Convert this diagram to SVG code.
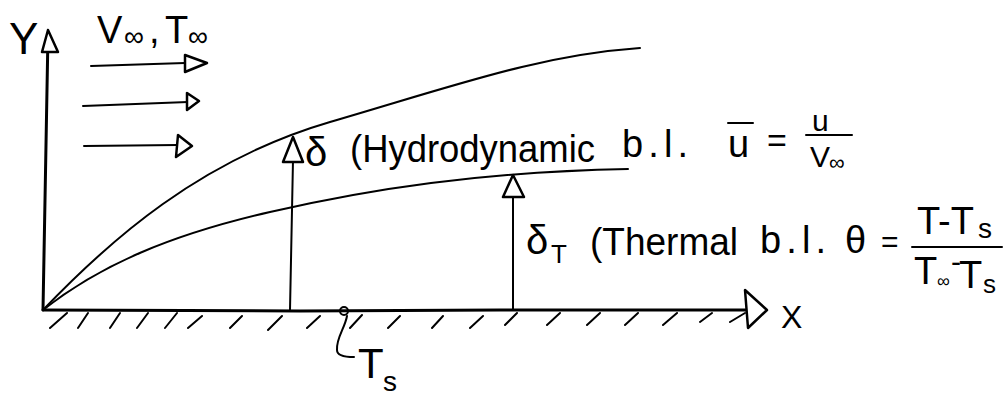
<svg xmlns="http://www.w3.org/2000/svg" width="1003" height="395" viewBox="0 0 1003 395">
<style>
.ln{stroke:#000;fill:none;stroke-width:2;stroke-linecap:round;stroke-linejoin:round}
.ax{stroke-width:3}
.hd{fill:#fff;stroke:#000;stroke-width:2.5;stroke-linejoin:round}
.t{font-family:"Liberation Sans",Arial,sans-serif;fill:#000}
</style>
<rect width="1003" height="395" fill="#fff"/>
<g id="axes">
  <path class="ln ax" d="M43,310 L45,200 L48,34"/>
  <polygon class="hd" points="48,30 42,52 58,52"/>
  <path class="ln ax" d="M43,310 L300,311 L500,310 L764,310"/>
  <polygon class="hd" points="767,310 745,290 748,328"/>
  <g id="hatching" class="ln">
    <path d="M50,328 L67,313 M78,328 L88,313 M110,328 L120,313 M137,328 L148,313 M165,328 L177,313 M188,328 L202,316 M230,328 L242,316 M268,330 L282,316 M307,328 L320,316 M350,328 L362,315 M388,328 L400,316 M432,328 L443,316 M470,328 L483,316 M505,325 L517,313 M547,325 L560,313 M587,325 L600,313 M625,325 L638,313 M663,325 L677,313 M700,322 L712,313 M730,322 L745,313"/>
  </g>
</g>
<g id="flow">
  <path class="ln" d="M91,66 L185,63"/>
  <polygon class="hd" points="207,63 185,55 185,72"/>
  <path class="ln" d="M83,106 L188,102"/>
  <polygon class="hd" points="199,101 187,93 187,110"/>
  <path class="ln" d="M84,146 L178,145"/>
  <polygon class="hd" points="192,146 178,135 176,157"/>
</g>
<g id="curves">
  <path id="delta-curve" class="ln" d="M43,310 C110,240 200,160 330,122 C460,84 540,55 640,48"/>
  <path id="deltaT-curve" class="ln" d="M43,310 C100,265 170,235 270,212 C370,189 480,172 628,169"/>
</g>
<g id="connectors">
  <path class="ln" d="M290,310 L293,160"/>
  <polygon class="hd" points="293,137 283,162 303,162"/>
  <path class="ln" d="M513,310 L513,195"/>
  <polygon class="hd" points="513,175 503,197 524,197"/>
  <circle class="ln" cx="344" cy="311" r="4" fill="#fff"/>
  <path class="ln" d="M347,316 C345,328 336,338 337,350 C337,356 345,357 354,357"/>
</g>
<g id="labels">
  <text class="t" font-size="44" x="9" y="54">Y</text>
  <text class="t" font-size="32" x="781" y="328">X</text>
  <text class="t" font-size="38" y="43"><tspan x="97">V</tspan><tspan x="124" y="46" font-size="28">∞</tspan><tspan x="149" y="43">,</tspan><tspan x="165" y="43">T</tspan><tspan x="188" y="46" font-size="28">∞</tspan></text>
  <g id="hydro-label">
    <text class="t" font-size="40" x="305" y="166">δ</text>
    <text class="t" font-size="38" x="350" y="162" textLength="245" lengthAdjust="spacingAndGlyphs">(Hydrodynamic</text>
    <text class="t" font-size="38" x="622" y="157" textLength="66" lengthAdjust="spacing">b.l.</text>
    <text class="t" font-size="38" x="728" y="157">u</text>
    <path class="ln" d="M728,123 L753,123"/>
    <text class="t" font-size="34" x="767" y="152">=</text>
    <text class="t" font-size="30" x="812" y="131">u</text>
    <path class="ln" d="M806,135 L852,135"/>
    <text class="t" font-size="30" y="167"><tspan x="810">V</tspan><tspan x="829" y="170" font-size="22">∞</tspan></text>
  </g>
  <g id="thermal-label">
    <text class="t" font-size="40" x="526" y="254">δ<tspan x="551" y="263" font-size="26">T</tspan></text>
    <text class="t" font-size="38" x="590" y="255" textLength="148" lengthAdjust="spacingAndGlyphs">(Thermal</text>
    <text class="t" font-size="38" x="760" y="253" textLength="66" lengthAdjust="spacing">b.l.</text>
    <text class="t" font-size="38" x="845" y="253">θ</text>
    <text class="t" font-size="30" x="881" y="252">=</text>
    <text class="t" font-size="38" x="917" y="234">T-T<tspan x="978" y="238" font-size="28">s</tspan></text>
    <path class="ln" d="M912,247 L1002,247"/>
    <text class="t" font-size="38" y="284"><tspan x="914">T</tspan><tspan x="937" y="287" font-size="18">∞</tspan><tspan x="951" y="272" font-size="30">-</tspan><tspan x="959" y="288">T</tspan><tspan x="983" y="293" font-size="26">s</tspan></text>
  </g>
  <text class="t" font-size="42" x="358" y="378">T<tspan x="383" y="391" font-size="28">s</tspan></text>
</g>
</svg>
